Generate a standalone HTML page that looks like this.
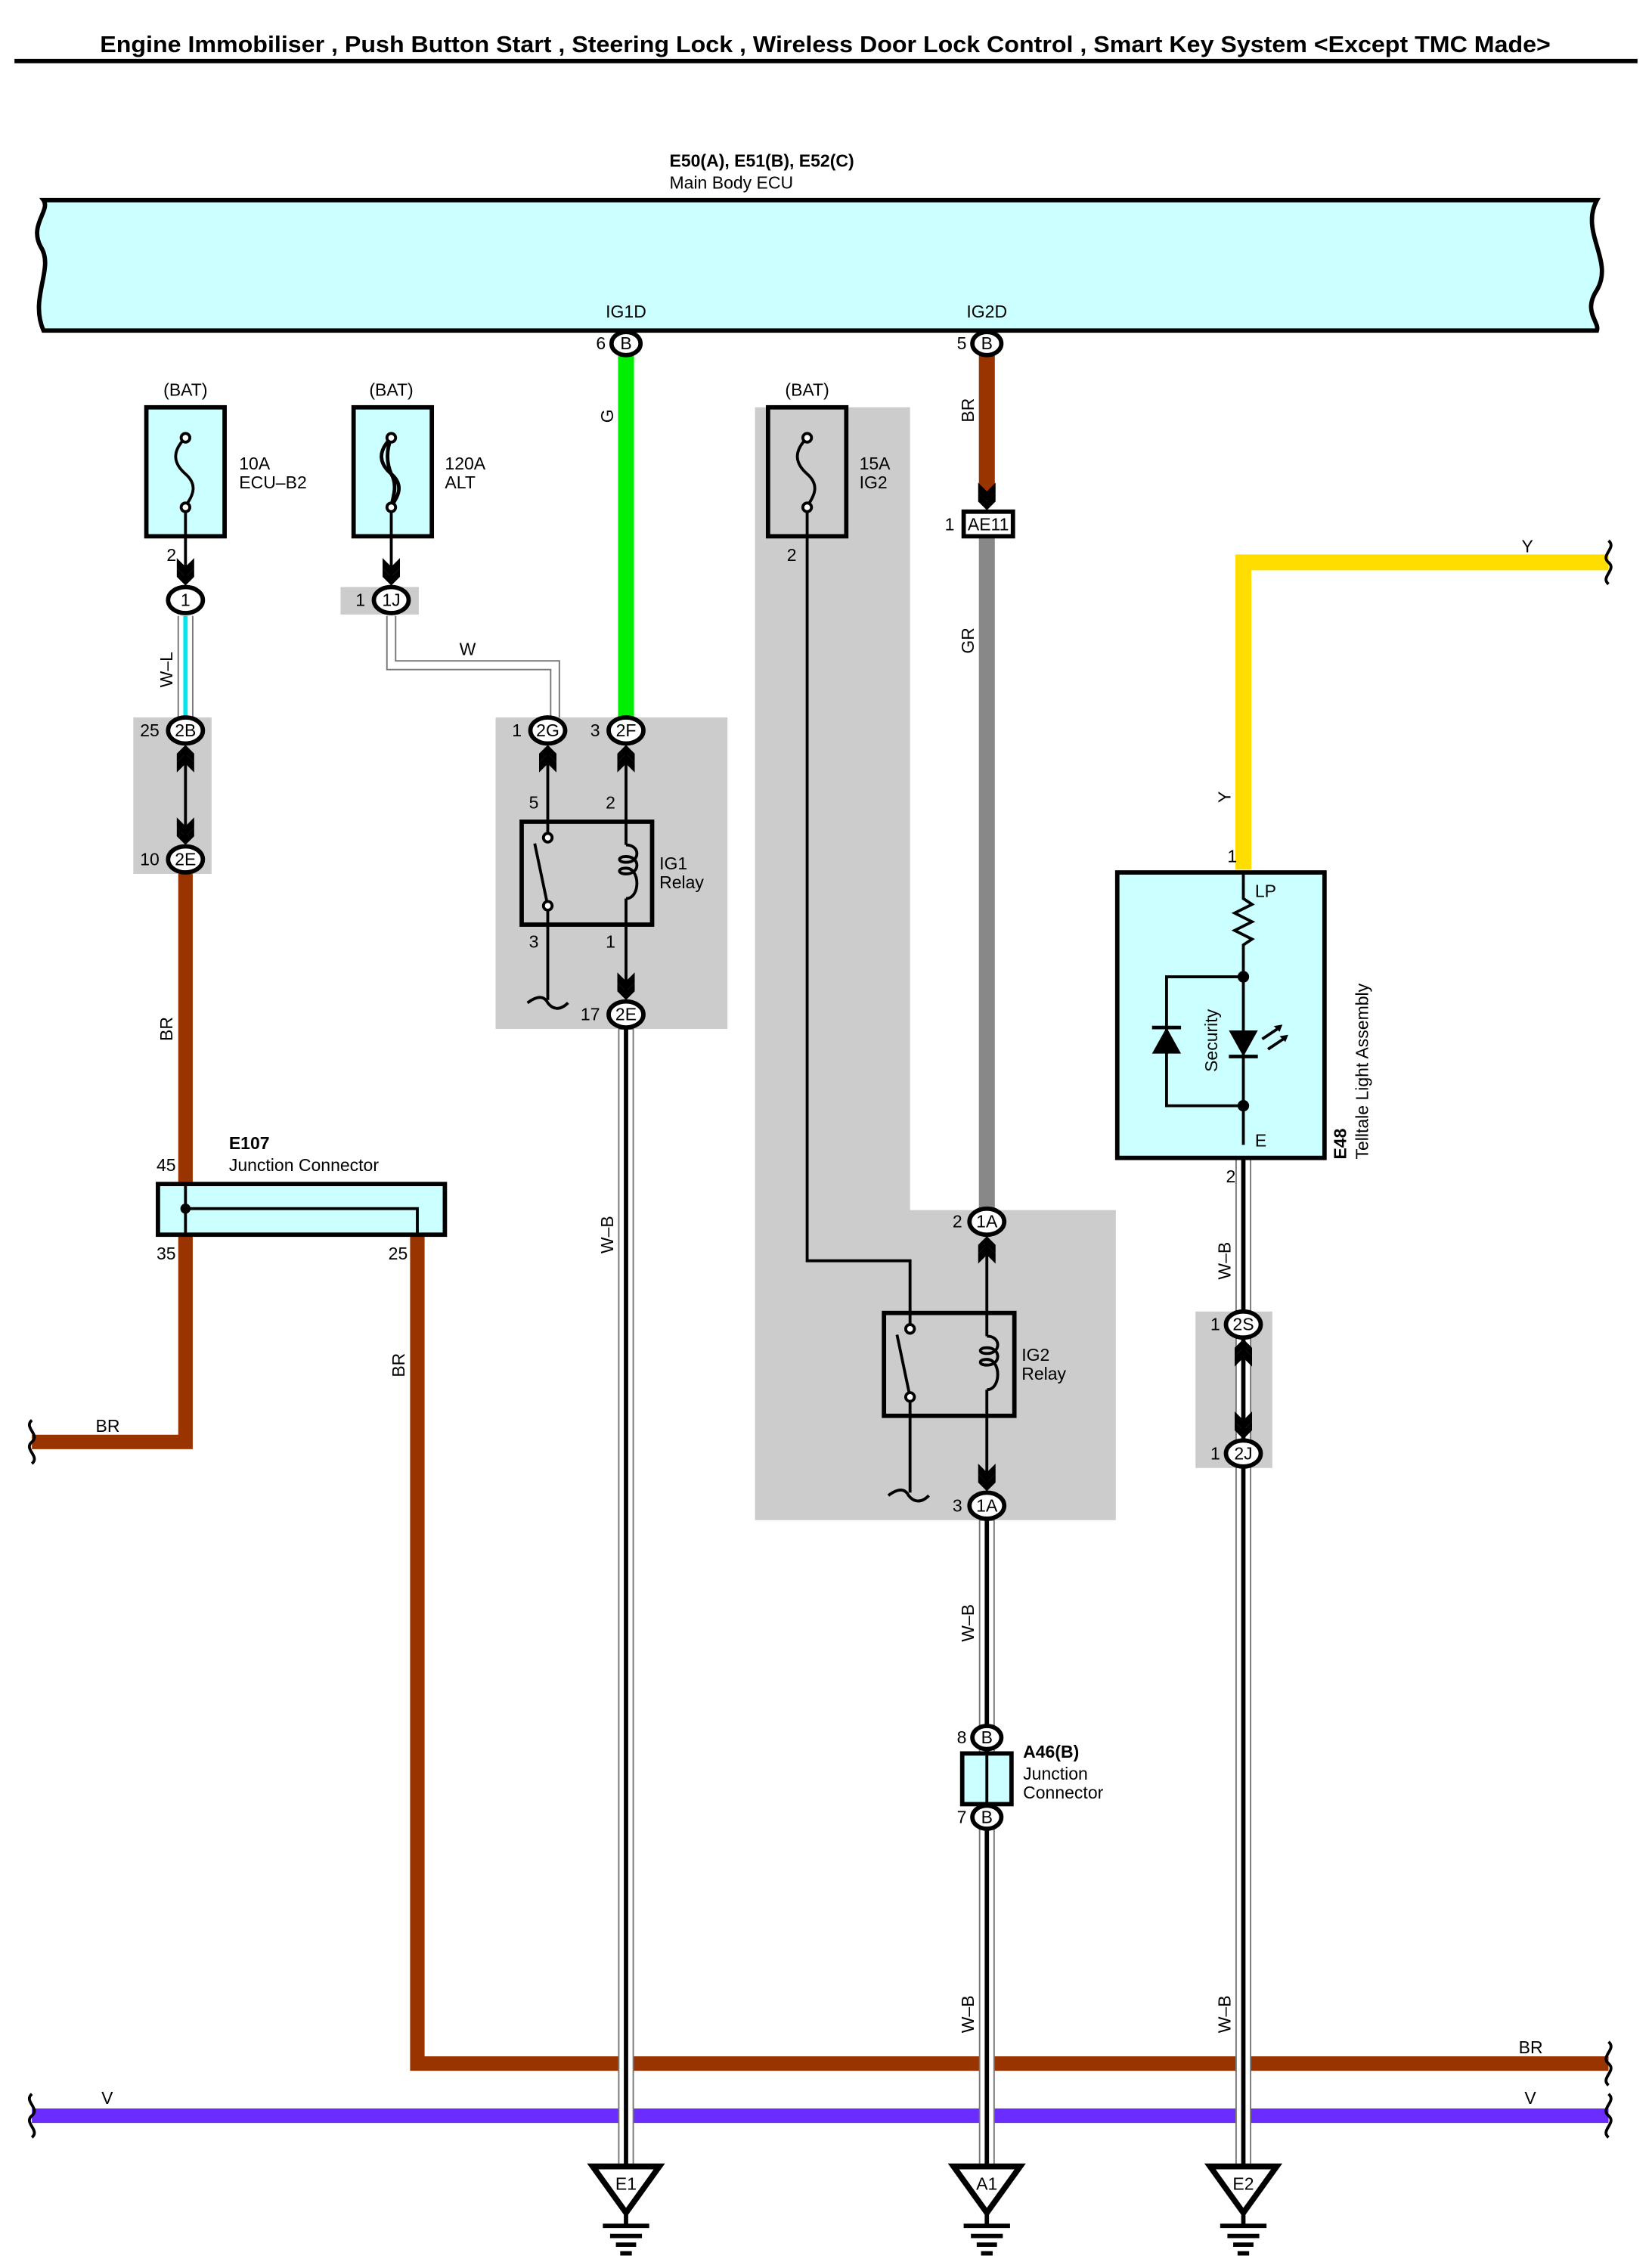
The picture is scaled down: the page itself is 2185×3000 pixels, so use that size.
<!DOCTYPE html>
<html><head><meta charset="utf-8"><style>
html,body{margin:0;padding:0;background:#fff}
svg{display:block}
text{font-family:"Liberation Sans",sans-serif;fill:#000}
</style></head><body>
<svg width="2185" height="3000" viewBox="0 0 1140 1565" xmlns="http://www.w3.org/2000/svg">
<defs>
<g id="ad"><polygon points="-6,-20 0,-14 6,-20 6,-13 0,-7 -6,-13" fill="#000"/><polygon points="-6,-13 0,-7 6,-13 6,-7 0,-1 -6,-7" fill="#000"/></g>
<g id="au"><polygon points="-6,20 0,14 6,20 6,13 0,7 -6,13" fill="#000"/><polygon points="-6,13 0,7 6,13 6,7 0,1 -6,7" fill="#000"/></g>
</defs>
<rect width="1140" height="1565" fill="#fff"/>
<text x="69" y="36" font-size="16" font-weight="bold" textLength="1001" lengthAdjust="spacingAndGlyphs">Engine Immobiliser , Push Button Start , Steering Lock , Wireless Door Lock Control , Smart Key System &lt;Except TMC Made&gt;</text>
<line x1="10" y1="42" x2="1130" y2="42" stroke="#000" stroke-width="3"/>

<rect x="92" y="495" width="54" height="108" fill="#cccccc"/>
<rect x="235" y="405" width="54" height="19" fill="#cccccc"/>
<rect x="342" y="495" width="160" height="215" fill="#cccccc"/>
<polygon points="521,281 628,281 628,835 770,835 770,1049 521,1049" fill="#cccccc"/>
<rect x="825" y="905" width="53" height="108" fill="#cccccc"/>

<path d="M30,138 L1102,138 C1090,160 1114,180 1102,200 C1092,215 1104,222 1102,228 L30,228 C20,205 38,185 28,170 C20,155 35,145 30,138 Z" fill="#ccffff" stroke="#000" stroke-width="3"/>
<text x="462" y="115" font-size="12" font-weight="bold">E50(A), E51(B), E52(C)</text>
<text x="462" y="130" font-size="12">Main Body ECU</text>
<text x="432" y="219" font-size="12" text-anchor="middle">IG1D</text>
<text x="681" y="219" font-size="12" text-anchor="middle">IG2D</text>

<line x1="432" y1="245" x2="432" y2="495" stroke="#00ee00" stroke-width="11"/>
<line x1="681" y1="245" x2="681" y2="345" stroke="#993300" stroke-width="11"/>
<line x1="681" y1="370" x2="681" y2="835" stroke="#888888" stroke-width="11"/>
<polyline points="858,600 858,388 1110,388" fill="none" stroke="#ffdd00" stroke-width="11"/>
<line x1="128" y1="425" x2="128" y2="495" stroke="#777" stroke-width="11"/>
<line x1="128" y1="425" x2="128" y2="495" stroke="#fff" stroke-width="9"/>
<line x1="128" y1="425" x2="128" y2="495" stroke="#00e5ee" stroke-width="3"/>
<polyline points="128,603 128,995 22,995" fill="none" stroke="#993300" stroke-width="10"/>
<polyline points="288,852 288,1424 1110,1424" fill="none" stroke="#993300" stroke-width="10"/>
<line x1="22" y1="1460" x2="1110" y2="1460" stroke="#6a2cff" stroke-width="10"/>
<polyline points="267,425 267,462 380,462 380,495" fill="none" stroke="#777" stroke-width="1"/>
<polyline points="273,425 273,456 386,456 386,495" fill="none" stroke="#777" stroke-width="1"/>
<g stroke-width="1">
<rect x="427" y="710" width="10" height="785" fill="#fff" stroke="#777"/>
<rect x="676" y="1049" width="10" height="446" fill="#fff" stroke="#777"/>
<rect x="853" y="799" width="10" height="696" fill="#fff" stroke="#777"/>
</g>
<line x1="432" y1="710" x2="432" y2="1495" stroke="#000" stroke-width="3"/>
<line x1="681" y1="1049" x2="681" y2="1495" stroke="#000" stroke-width="3"/>
<line x1="858" y1="799" x2="858" y2="1495" stroke="#000" stroke-width="3"/>
<g font-size="12">
<text transform="translate(423,287) rotate(-90)" text-anchor="middle">G</text>
<text transform="translate(672,283) rotate(-90)" text-anchor="middle">BR</text>
<text transform="translate(672,442) rotate(-90)" text-anchor="middle">GR</text>
<text transform="translate(119,462) rotate(-90)" text-anchor="middle">W–L</text>
<text transform="translate(119,710) rotate(-90)" text-anchor="middle">BR</text>
<text transform="translate(279,942) rotate(-90)" text-anchor="middle">BR</text>
<text transform="translate(423,852) rotate(-90)" text-anchor="middle">W–B</text>
<text transform="translate(672,1120) rotate(-90)" text-anchor="middle">W–B</text>
<text transform="translate(672,1390) rotate(-90)" text-anchor="middle">W–B</text>
<text transform="translate(849,870) rotate(-90)" text-anchor="middle">W–B</text>
<text transform="translate(849,1390) rotate(-90)" text-anchor="middle">W–B</text>
<text transform="translate(849,550) rotate(-90)" text-anchor="middle">Y</text>
<text x="317" y="452">W</text>
<text x="66" y="988">BR</text>
<text x="1050" y="381">Y</text>
<text x="1048" y="1417">BR</text>
<text x="70" y="1452">V</text>
<text x="1052" y="1452">V</text>
</g>
<g fill="none" stroke="#000" stroke-width="2">
<path d="M22,980 c-6,5 6,10 0,15 c-6,5 6,10 0,15"/>
<path d="M1110,373 c6,5 -6,10 0,15 c6,5 -6,10 0,15"/>
<path d="M1110,1409 c6,5 -6,10 0,15 c6,5 -6,10 0,15"/>
<path d="M1110,1445 c6,5 -6,10 0,15 c6,5 -6,10 0,15"/>
<path d="M22,1445 c-6,5 6,10 0,15 c-6,5 6,10 0,15"/>
</g>

<g stroke="#000" stroke-width="3" fill="#ccffff">
<rect x="101" y="281" width="54" height="89"/>
<rect x="244" y="281" width="54" height="89"/>
<rect x="530" y="281" width="54" height="89" fill="#cccccc"/>
</g>
<g fill="none" stroke="#000" stroke-width="2">
<path d="M128,302 c-10,10 -8,18 0,25 c8,7 6,14 0,22"/>
<circle cx="128" cy="302" r="3" fill="#fff"/><circle cx="128" cy="350" r="3" fill="#fff"/>
<line x1="128" y1="353" x2="128" y2="400"/>
<path d="M270,302 c-10,10 -8,18 0,25 c8,7 6,14 0,22 M270,302 c-4,10 -3,18 0,25 c4,7 2,14 0,22" stroke-width="2.5"/>
<circle cx="270" cy="302" r="3" fill="#fff"/><circle cx="270" cy="350" r="3" fill="#fff"/>
<line x1="270" y1="353" x2="270" y2="400"/>
<path d="M557,302 c-10,10 -8,18 0,25 c8,7 6,14 0,22"/>
<circle cx="557" cy="302" r="3" fill="#fff"/><circle cx="557" cy="350" r="3" fill="#fff"/>
<polyline points="557,353 557,870 628,870 628,915"/>
</g>
<g font-size="12">
<text x="128" y="273" text-anchor="middle">(BAT)</text>
<text x="270" y="273" text-anchor="middle">(BAT)</text>
<text x="557" y="273" text-anchor="middle">(BAT)</text>
<text x="165" y="324">10A</text><text x="165" y="337">ECU–B2</text>
<text x="307" y="324">120A</text><text x="307" y="337">ALT</text>
<text x="593" y="324">15A</text><text x="593" y="337">IG2</text>
<text x="115" y="387">2</text>
<text x="543" y="387">2</text>
</g>

<rect x="109" y="817" width="198" height="35" fill="#ccffff" stroke="#000" stroke-width="3"/>
<polyline points="128,817 128,852" stroke="#000" stroke-width="2" fill="none"/>
<polyline points="128,834 288,834 288,852" stroke="#000" stroke-width="2" fill="none"/>
<circle cx="128" cy="834" r="3.5" fill="#000"/>
<g font-size="12">
<text x="158" y="793" font-weight="bold">E107</text>
<text x="158" y="808">Junction Connector</text>
<text x="108" y="808">45</text>
<text x="108" y="869">35</text>
<text x="268" y="869">25</text>
</g>

<g fill="none" stroke="#000" stroke-width="2">
<line x1="378" y1="515" x2="378" y2="575"/>
<line x1="432" y1="515" x2="432" y2="583"/>
<line x1="432" y1="620" x2="432" y2="688"/>
<line x1="378" y1="628" x2="378" y2="690"/>
<path d="M364,692 c8,-6 12,-4 14,0 c3,4 8,6 14,0"/>
<line x1="681" y1="855" x2="681" y2="922"/>
<line x1="681" y1="959" x2="681" y2="1027"/>
<line x1="628" y1="965" x2="628" y2="1030"/>
<path d="M613,1032 c8,-6 12,-4 14,0 c3,4 8,6 14,0"/>
</g>
<g stroke="#000" stroke-width="3" fill="none">
<rect x="360" y="567" width="90" height="71"/>
<rect x="610" y="906" width="90" height="71"/>
</g>
<g fill="none" stroke="#000" stroke-width="2">
<line x1="369" y1="582" x2="378" y2="625"/>
<circle cx="378" cy="578" r="3" fill="#fff"/><circle cx="378" cy="625" r="3" fill="#fff"/>
<path d="M432,583 c10,0 10,12 0,12 c-6,0 -6,-4 0,-4 c10,0 10,12 0,12 c-6,0 -6,-4 0,-4 c10,0 10,21 0,21"/>
<line x1="619" y1="921" x2="628" y2="964"/>
<circle cx="628" cy="917" r="3" fill="#fff"/><circle cx="628" cy="964" r="3" fill="#fff"/>
<path d="M681,922 c10,0 10,12 0,12 c-6,0 -6,-4 0,-4 c10,0 10,12 0,12 c-6,0 -6,-4 0,-4 c10,0 10,21 0,21"/>
</g>
<g font-size="12">
<text x="455" y="600">IG1</text><text x="455" y="613">Relay</text>
<text x="705" y="939">IG2</text><text x="705" y="952">Relay</text>
<text x="365" y="558">5</text><text x="418" y="558">2</text>
<text x="365" y="654">3</text><text x="418" y="654">1</text>
</g>

<rect x="771" y="602" width="143" height="197" fill="#ccffff" stroke="#000" stroke-width="3"/>
<g stroke="#000" stroke-width="2" fill="none">
<polyline points="858,602 858,620 864,624 852,630 864,636 852,642 864,648 858,652 858,790"/>
<polyline points="858,674 805,674 805,763 858,763"/>
</g>
<circle cx="858" cy="674" r="4" fill="#000"/><circle cx="858" cy="763" r="4" fill="#000"/>
<polygon points="795,727 815,727 805,709" fill="#000"/><line x1="795" y1="709" x2="815" y2="709" stroke="#000" stroke-width="2.5"/>
<polygon points="848,711 868,711 858,729" fill="#000"/><line x1="848" y1="729" x2="868" y2="729" stroke="#000" stroke-width="2.5"/>
<g stroke="#000" stroke-width="2"><line x1="871" y1="717" x2="883" y2="709"/><line x1="875" y1="724" x2="887" y2="716"/></g>
<polygon points="885,707 879,708 883,712" fill="#000"/><polygon points="889,714 883,715 887,719" fill="#000"/>
<g font-size="12">
<text transform="translate(840,718) rotate(-90)" text-anchor="middle">Security</text>
<text x="866" y="619">LP</text>
<text x="866" y="791">E</text>
<text x="847" y="595">1</text>
<text x="846" y="816">2</text>
<text transform="translate(929,800) rotate(-90)" font-weight="bold">E48</text>
<text transform="translate(944,800) rotate(-90)">Telltale Light Assembly</text>
</g>

<rect x="664" y="1210" width="34" height="35" fill="#ccffff" stroke="#000" stroke-width="3"/>
<line x1="681" y1="1210" x2="681" y2="1245" stroke="#000" stroke-width="2"/>
<g font-size="12">
<text x="706" y="1213" font-weight="bold">A46(B)</text>
<text x="706" y="1228">Junction</text>
<text x="706" y="1241">Connector</text>
</g>

<rect x="665" y="353" width="34" height="17" fill="#fff" stroke="#000" stroke-width="3"/>
<text x="682" y="366" font-size="12" text-anchor="middle">AE11</text>
<text x="652" y="366" font-size="12">1</text>
<use href="#ad" x="681" y="353"/>

<g fill="#fff" stroke="#000" stroke-width="3">
<ellipse cx="432" cy="237" rx="10" ry="8"/>
<ellipse cx="681" cy="237" rx="10" ry="8"/>
<ellipse cx="128" cy="414" rx="12" ry="9"/>
<ellipse cx="270" cy="414" rx="12" ry="9"/>
<ellipse cx="128" cy="504" rx="12" ry="9"/>
<ellipse cx="128" cy="593" rx="12" ry="9"/>
<ellipse cx="378" cy="504" rx="12" ry="9"/>
<ellipse cx="432" cy="504" rx="12" ry="9"/>
<ellipse cx="432" cy="700" rx="12" ry="9"/>
<ellipse cx="681" cy="843" rx="12" ry="9"/>
<ellipse cx="681" cy="1039" rx="12" ry="9"/>
<ellipse cx="681" cy="1199" rx="10" ry="8"/>
<ellipse cx="681" cy="1254" rx="10" ry="8"/>
<ellipse cx="858" cy="914" rx="12" ry="9"/>
<ellipse cx="858" cy="1003" rx="12" ry="9"/>
</g>
<g font-size="12" text-anchor="middle">
<text x="432" y="241">B</text><text x="681" y="241">B</text>
<text x="128" y="418">1</text><text x="270" y="418">1J</text>
<text x="128" y="508">2B</text><text x="128" y="597">2E</text>
<text x="378" y="508">2G</text><text x="432" y="508">2F</text>
<text x="432" y="704">2E</text>
<text x="681" y="847">1A</text><text x="681" y="1043">1A</text>
<text x="681" y="1203">B</text><text x="681" y="1258">B</text>
<text x="858" y="918">2S</text><text x="858" y="1007">2J</text>
</g>
<g font-size="12" text-anchor="end">
<text x="418" y="241">6</text><text x="667" y="241">5</text>
<text x="252" y="418">1</text>
<text x="110" y="508">25</text><text x="110" y="597">10</text>
<text x="360" y="508">1</text><text x="414" y="508">3</text>
<text x="414" y="704">17</text>
<text x="664" y="847">2</text><text x="664" y="1043">3</text>
<text x="667" y="1203">8</text><text x="667" y="1258">7</text>
<text x="842" y="918">1</text><text x="842" y="1007">1</text>
</g>
<use href="#ad" x="128" y="405"/>
<use href="#ad" x="270" y="405"/>
<use href="#au" x="128" y="513"/>
<use href="#ad" x="128" y="584"/>
<use href="#au" x="378" y="513"/>
<use href="#au" x="432" y="513"/>
<use href="#ad" x="432" y="691"/>
<use href="#au" x="681" y="852"/>
<use href="#ad" x="681" y="1030"/>
<use href="#au" x="858" y="923"/>
<use href="#ad" x="858" y="994"/>
<line x1="128" y1="520" x2="128" y2="580" stroke="#000" stroke-width="2"/>
<line x1="858" y1="930" x2="858" y2="990" stroke="#000" stroke-width="2"/>

<g stroke="#000" fill="#fff">
<polygon points="409,1495 455,1495 432,1527" stroke-width="4"/>
<polygon points="658,1495 704,1495 681,1527" stroke-width="4"/>
<polygon points="835,1495 881,1495 858,1527" stroke-width="4"/>
</g>
<g stroke="#000" stroke-width="3">
<line x1="432" y1="1527" x2="432" y2="1536"/><line x1="416" y1="1536" x2="448" y2="1536"/><line x1="421" y1="1543" x2="443" y2="1543"/><line x1="425" y1="1549" x2="439" y2="1549"/><line x1="428" y1="1555" x2="436" y2="1555"/>
<line x1="681" y1="1527" x2="681" y2="1536"/><line x1="665" y1="1536" x2="697" y2="1536"/><line x1="670" y1="1543" x2="692" y2="1543"/><line x1="674" y1="1549" x2="688" y2="1549"/><line x1="677" y1="1555" x2="685" y2="1555"/>
<line x1="858" y1="1527" x2="858" y2="1536"/><line x1="842" y1="1536" x2="874" y2="1536"/><line x1="847" y1="1543" x2="869" y2="1543"/><line x1="851" y1="1549" x2="865" y2="1549"/><line x1="854" y1="1555" x2="862" y2="1555"/>
</g>
<g font-size="12" text-anchor="middle">
<text x="432" y="1511">E1</text><text x="681" y="1511">A1</text><text x="858" y="1511">E2</text>
</g>
</svg>
</body></html>
